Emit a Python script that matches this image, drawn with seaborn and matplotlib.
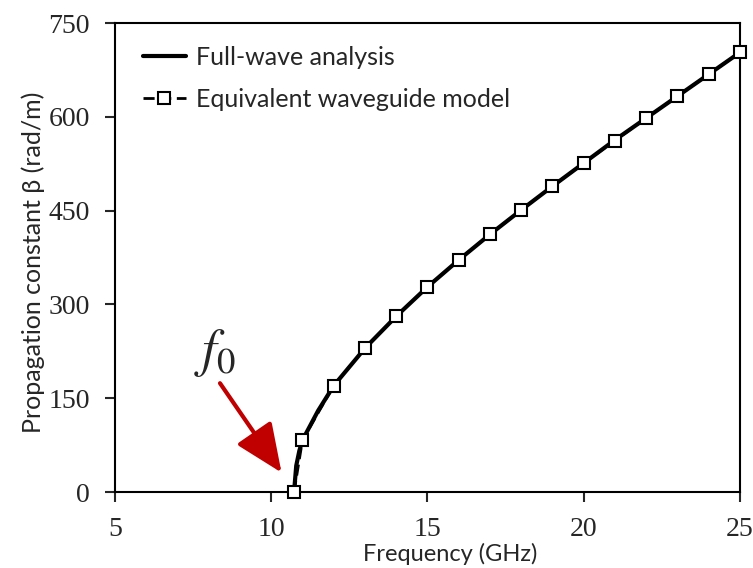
import pandas as pd
import seaborn as sns
import matplotlib
matplotlib.use('Agg')
import matplotlib.pyplot as plt

# full-wave curve
fw_freq = [10.73, 10.8, 10.9, 11, 11.5, 12, 13, 14, 15, 16, 17, 18, 19, 20, 21, 22, 23, 24, 25]
fw_beta = [0, 42, 66, 83, 130, 170, 230, 281, 328, 371, 412, 451, 489, 526, 563, 598, 633, 668, 703]

# equivalent waveguide model points
eq_freq = [10.73, 11, 12, 13, 14, 15, 16, 17, 18, 19, 20, 21, 22, 23, 24, 25]
eq_beta = [0, 83, 170, 230, 281, 328, 371, 412, 451, 489, 526, 562, 598, 633, 668, 703]

x_ticks = [5, 10, 15, 20, 25]
y_ticks = [0, 150, 300, 450, 600, 750]

df_fw = pd.DataFrame({'freq': fw_freq, 'beta': fw_beta})
df_eq = pd.DataFrame({'freq': eq_freq, 'beta': eq_beta})

sns.set_style('white')
plt.rcParams['mathtext.fontset'] = 'stix'

fig = plt.figure(figsize=(7.53, 5.68), dpi=100)
ax = fig.add_axes([0.1527, 0.1338, 0.8300, 0.8257])

sns.lineplot(x='freq', y='beta', data=df_fw, ax=ax, color='black', lw=3,
             label='Full-wave analysis', zorder=3)
sns.lineplot(x='freq', y='beta', data=df_eq, ax=ax, color='black', lw=2,
             linestyle=(0, (4, 2)), marker='s', markersize=8,
             markerfacecolor='white', markeredgecolor='black', markeredgewidth=1.5,
             label='Equivalent waveguide model', zorder=4, clip_on=False)

ax.set_xlim(5, 25)
ax.set_ylim(0, 750)
ax.set_xticks(x_ticks)
ax.set_yticks(y_ticks)
ax.tick_params(direction='out', length=7, width=1.5, labelsize=20,
               bottom=True, left=True)
ax.tick_params(axis='y', pad=11)
ax.tick_params(axis='x', pad=11)
for lab in ax.get_xticklabels() + ax.get_yticklabels():
    lab.set_family('Liberation Serif')
for s in ax.spines.values():
    s.set_linewidth(1.5)
    s.set_color('black')

ax.set_xlabel('Frequency (GHz)', family='Lato', fontsize=17)
ax.set_ylabel('Propagation constant β (rad/m)', family='Lato', fontsize=18)
ax.xaxis.set_label_coords(0.536, -0.108)
ax.yaxis.set_label_coords(-0.112, 0.49)

leg = ax.legend(loc='upper left', bbox_to_anchor=(0.045, 0.951), frameon=False,
                prop={'family': 'Lato', 'size': 18},
                handlelength=1.7, handletextpad=0.4, labelspacing=0.75,
                borderaxespad=0, borderpad=0)

ax.annotate('', xy=(10.33, 31), xytext=(8.36, 174),
            arrowprops=dict(arrowstyle='-|>,head_length=1.5,head_width=0.65',
                            color='#C00000', lw=3, mutation_scale=20,
                            shrinkA=0, shrinkB=0))
ax.text(8.2, 222, '$f_0$', fontsize=38, ha='center', va='center')

fig.savefig('out.png', dpi=100)
